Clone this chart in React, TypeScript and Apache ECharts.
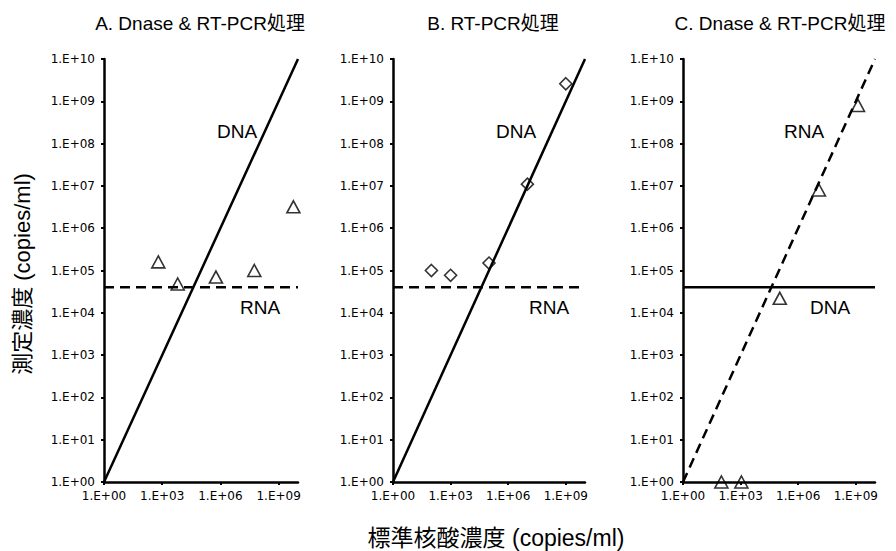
import React, { useEffect, useRef } from 'react';
import * as echarts from 'echarts';

const panelTitles = ['A. Dnase & RT-PCR処理', 'B. RT-PCR処理', 'C. Dnase & RT-PCR処理'];
const xAxisTitle = '標準核酸濃度 (copies/ml)';
const yAxisTitle = '測定濃度 (copies/ml)';

const xTickValues = [1, 1e3, 1e6, 1e9];
const xTickLabels = ['1.E+00', '1.E+03', '1.E+06', '1.E+09'];
const yTickValues = [1, 1e1, 1e2, 1e3, 1e4, 1e5, 1e6, 1e7, 1e8, 1e9, 1e10];
const yTickLabels = ['1.E+00', '1.E+01', '1.E+02', '1.E+03', '1.E+04', '1.E+05', '1.E+06', '1.E+07', '1.E+08', '1.E+09', '1.E+10'];

// reference lines
const diagonalLine = [[1, 1], [1e10, 1e10]];
const flatLine = [[1, 4e4], [1e10, 4e4]];

// measured points
const panelAPoints = [[630, 1.6e5], [6.3e3, 4.8e4], [5.9e5, 7e4], [5.6e7, 1e5], [5.8e9, 3.2e6]];
const panelBPoints = [[100, 1e5], [1e3, 7.7e4], [1e5, 1.5e5], [1e7, 1.1e7], [1e9, 2.6e9]];
const panelCPoints = [[100, 1], [1.1e3, 1], [1.1e5, 2.2e4], [1.2e7, 8e6], [1.3e9, 8e8]];

const lineLabels = [
  ['DNA', 'RNA'],
  ['DNA', 'RNA'],
  ['RNA', 'DNA'],
];

const FONT = "'Liberation Sans', Arial, 'Noto Sans CJK JP', sans-serif";
const TICK_FONT = "'DejaVu Sans', 'Liberation Sans', sans-serif";

function labelFor(values: number[], labels: string[]) {
  return (v: number) => {
    const i = values.findIndex((t) => Math.abs(Math.log10(t) - Math.log10(v)) < 1e-6);
    return i >= 0 ? labels[i] : '';
  };
}

export default function App() {
  const ref = useRef<HTMLDivElement>(null);
  useEffect(() => {
    if (!ref.current) return;
    const chart = echarts.init(ref.current, undefined, { renderer: 'svg' });
    const grids = [
      { left: 104, top: 59, width: 194, height: 423 },
      { left: 393, top: 59, width: 192, height: 423 },
      { left: 683, top: 59, width: 192, height: 423 },
    ];
    const axisLine = { show: true, onZero: false, lineStyle: { color: '#000', width: 2.5 } };
    const xAxes = grids.map((_, i) => ({
      type: 'log',
      logBase: 10,
      gridIndex: i,
      min: 1,
      max: 1e10,
      axisLine,
      axisTick: { show: true, length: 3, customValues: xTickValues, lineStyle: { color: '#000', width: 2 } },
      axisLabel: {
        customValues: xTickValues,
        formatter: labelFor(xTickValues, xTickLabels),
        fontSize: 12,
        fontFamily: TICK_FONT,
        color: '#000',
        margin: 8,
      },
      splitLine: { show: false },
    }));
    const yAxes = grids.map((_, i) => ({
      type: 'log',
      logBase: 10,
      gridIndex: i,
      min: 1,
      max: 1e10,
      axisLine,
      axisTick: { show: true, length: 3, customValues: yTickValues, lineStyle: { color: '#000', width: 2 } },
      axisLabel: {
        customValues: yTickValues,
        formatter: labelFor(yTickValues, yTickLabels),
        fontSize: 12,
        fontFamily: TICK_FONT,
        color: '#000',
        margin: 9,
      },
      splitLine: { show: false },
    }));

    const solid = { color: '#000', width: 2.5, type: 'solid' };
    const dashed = { color: '#000', width: 2.5, type: [10, 6] };
    const lineSeries = (data: number[][], style: any, i: number) => ({
      type: 'line',
      xAxisIndex: i,
      yAxisIndex: i,
      data,
      symbol: 'none',
      lineStyle: style,
      silent: true,
      z: 2,
    });
    const scatter = (data: number[][], symbol: string, size: any, i: number) => ({
      type: 'scatter',
      xAxisIndex: i,
      yAxisIndex: i,
      data,
      symbol,
      symbolSize: size,
      clip: false,
      itemStyle: { color: 'transparent', borderColor: '#000', borderWidth: 1.6 },
      z: 3,
    });

    const series = [
      lineSeries(diagonalLine, solid, 0),
      lineSeries(flatLine, dashed, 0),
      scatter(panelAPoints, 'triangle', [13, 12], 0),
      lineSeries(diagonalLine, solid, 1),
      lineSeries(flatLine, dashed, 1),
      scatter(panelBPoints, 'diamond', [12, 12], 1),
      lineSeries(diagonalLine, dashed, 2),
      lineSeries(flatLine, solid, 2),
      scatter(panelCPoints, 'triangle', [13, 12], 2),
    ];

    const titleCenters = [200, 493, 780];
    const upperLabelPos = [[237, 131], [516, 131], [804, 131]];
    const lowerLabelPos = [[260, 307], [549, 307], [830, 307]];
    const txt = (text: string, x: number, y: number, fontSize: number, extra: any = {}) => ({
      type: 'text',
      x,
      y,
      silent: true,
      ...extra,
      style: {
        text,
        fontSize,
        fontFamily: FONT,
        fill: '#000',
        textAlign: 'center',
        textVerticalAlign: 'middle',
      },
    });
    const graphic: any[] = [];
    panelTitles.forEach((t, i) => graphic.push(txt(t, titleCenters[i], 23, 19)));
    lineLabels.forEach((pair, i) => {
      graphic.push(txt(pair[0], upperLabelPos[i][0], upperLabelPos[i][1], 19));
      graphic.push(txt(pair[1], lowerLabelPos[i][0], lowerLabelPos[i][1], 19));
    });
    graphic.push(txt(xAxisTitle, 496, 538, 23));
    graphic.push(txt(yAxisTitle, 22, 274, 22, { rotation: Math.PI / 2 }));

    chart.setOption({
      animation: false,
      backgroundColor: '#fff',
      grid: grids,
      xAxis: xAxes,
      yAxis: yAxes,
      series,
      graphic,
    });
    return () => chart.dispose();
  }, []);
  return <div ref={ref} style={{ position: 'fixed', left: 0, top: 0, width: 896, height: 551 }} />;
}
